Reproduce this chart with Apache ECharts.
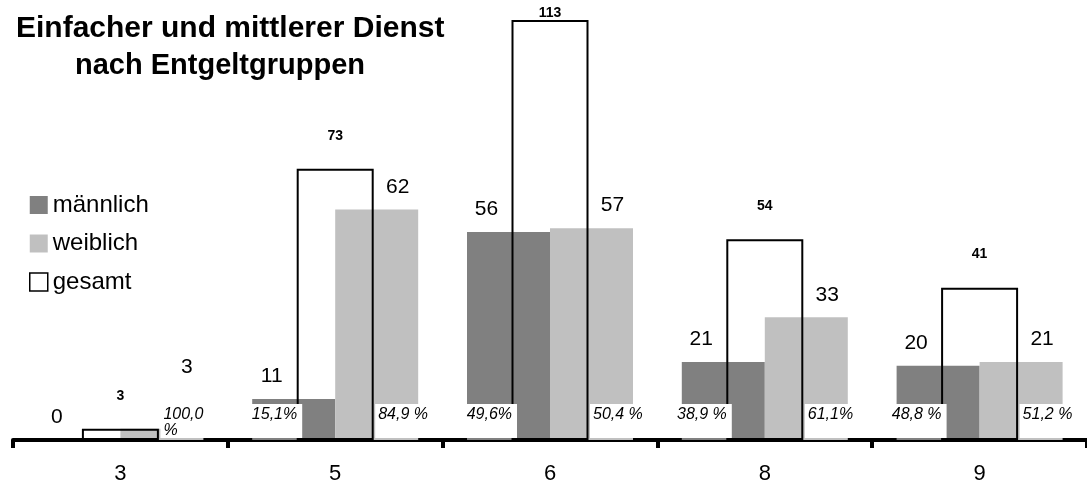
<!DOCTYPE html>
<html>
<head>
<meta charset="utf-8">
<script src="https://cdn.jsdelivr.net/npm/echarts@6/dist/echarts.min.js"></script>
<style>
  html, body { margin: 0; padding: 0; background: #fff; }
  #chart { width: 1087px; height: 488px; }
</style>
</head>
<body>
<div id="chart"></div>
<script>
const categories = ['3', '5', '6', '8', '9'];
const maleValues = [0, 11, 56, 21, 20];
const femaleValues = [3, 62, 57, 33, 21];
const totalValues = [3, 73, 113, 54, 41];
const malePctLabels = ['', '15,1%', '49,6%', '38,9 %', '48,8 %'];
const femalePctLabels = ['100,0 %', '84,9 %', '50,4 %', '61,1%', '51,2 %'];
const titleLine1 = 'Einfacher und mittlerer Dienst';
const titleLine2 = 'nach Entgeltgruppen';
const seriesNames = ['männlich', 'weiblich', 'gesamt'];

const FONT = '"Liberation Sans", Arial, sans-serif';
const chart = echarts.init(document.getElementById('chart'), null, { renderer: 'canvas' });

function pctData(labels) {
  const out = [];
  labels.forEach((t, i) => { if (t) out.push({ name: t, value: [i, 0] }); });
  return out;
}

const pctLabelBase = {
  show: true,
  position: 'inside',
  formatter: '{b}',
  verticalAlign: 'top',
  fontFamily: FONT,
  fontSize: 16,
  fontStyle: 'italic',
  color: '#000',
  backgroundColor: '#fff',
  height: 31,
  lineHeight: 16
};

const option = {
  animation: false,
  backgroundColor: '#fff',
  textStyle: { fontFamily: FONT },
  title: [
    { text: titleLine1, left: 11, top: 9, padding: 5,
      textStyle: { fontFamily: FONT, fontSize: 30, fontWeight: 'bold', color: '#000' } },
    { text: titleLine2, left: 70, top: 46, padding: 5,
      textStyle: { fontFamily: FONT, fontSize: 29, fontWeight: 'bold', color: '#000' } }
  ],
  legend: {
    orient: 'vertical',
    left: 24,
    top: 188,
    itemWidth: 18,
    itemHeight: 18,
    itemGap: 14.5,
    icon: 'rect',
    textStyle: { fontFamily: FONT, fontSize: 24, color: '#000' },
    data: [
      { name: seriesNames[0] },
      { name: seriesNames[1] },
      { name: seriesNames[2], itemStyle: { color: '#fff', borderColor: '#000', borderWidth: 1.5 } }
    ]
  },
  grid: { left: 13, width: 1077.5, top: 0, bottom: 48, containLabel: false },
  xAxis: [
    {
      type: 'category',
      data: categories,
      axisLine: { show: true, lineStyle: { color: '#000', width: 4 } },
      axisTick: { show: true, length: 8, alignWithLabel: false, lineStyle: { color: '#000', width: 4 } },
      axisLabel: { fontFamily: FONT, fontSize: 22, color: '#000', margin: 23 },
      splitLine: { show: false }
    },
    { type: 'category', data: categories, show: false }
  ],
  yAxis: { type: 'value', min: 0, max: 118.4, show: false, splitLine: { show: false } },
  series: [
    {
      name: seriesNames[0], type: 'bar', data: maleValues, barWidth: 83, barGap: '0%', z: 2,
      itemStyle: { color: '#808080' },
      label: { show: true, position: 'top', distance: 12, offset: [-22, 0],
        fontFamily: FONT, fontSize: 21, color: '#000' }
    },
    {
      name: seriesNames[1], type: 'bar', data: femaleValues, barWidth: 83, barGap: '0%', z: 2,
      itemStyle: { color: '#c0c0c0' },
      label: { show: true, position: 'top', distance: 12,
        fontFamily: FONT, fontSize: 21, color: '#000' },
      labelLayout: function (p) {
        const low = p.labelRect.y + p.labelRect.height > 402;
        return { dx: low ? 25 : 21, dy: low ? -39 : 0 };
      }
    },
    {
      name: seriesNames[2], type: 'bar', data: totalValues, xAxisIndex: 1, barWidth: 77, z: 3,
      itemStyle: { color: 'rgba(0,0,0,0)', borderColor: '#000', borderWidth: 2 },
      label: { show: true, position: 'top', distance: 26,
        fontFamily: FONT, fontSize: 14, fontWeight: 'bold', color: '#000' },
      labelLayout: function (p) {
        if (p.labelRect.y < 6) return { dy: 6 - p.labelRect.y };
        return {};
      }
    },
    {
      name: 'malePct', type: 'scatter', data: pctData(malePctLabels), z: 5, clip: false,
      symbolSize: 1, itemStyle: { color: 'rgba(0,0,0,0)', opacity: 1 }, silent: true,
      label: Object.assign({}, pctLabelBase, { align: 'right', offset: [-33, -36], padding: [3, 5, 0, 18] })
    },
    {
      name: 'femalePct', type: 'scatter', data: pctData(femalePctLabels), z: 5, clip: false,
      symbolSize: 1, itemStyle: { color: 'rgba(0,0,0,0)', opacity: 1 }, silent: true,
      label: Object.assign({}, pctLabelBase, { align: 'left', offset: [40, -36], width: 52,
        overflow: 'break', padding: [3, 4, 0, 3] })
    }
  ]
};
chart.setOption(option);
</script>
</body>
</html>
